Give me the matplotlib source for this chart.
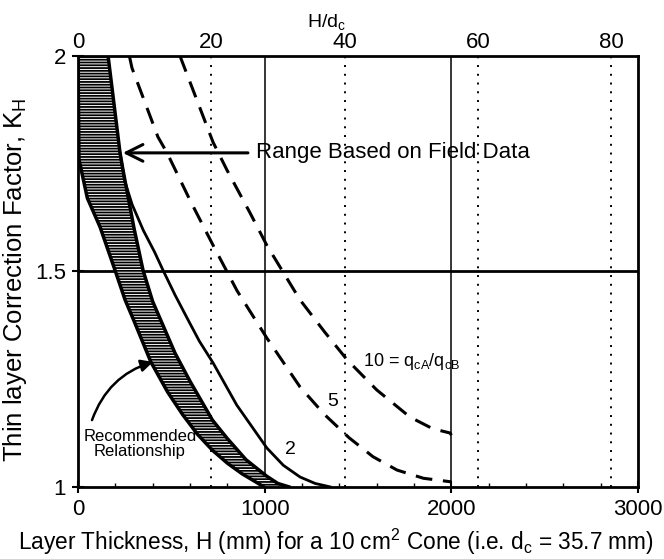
import matplotlib
matplotlib.use("Agg")
import matplotlib.pyplot as plt
from matplotlib.ticker import MultipleLocator

plt.rcParams['font.family'] = ['Liberation Sans', 'DejaVu Sans']
plt.rcParams['hatch.linewidth'] = 1.3
plt.rcParams['mathtext.default'] = 'regular'

# Recommended relationship band (lower / upper edges)
band_low_H = [0, 5, 50, 118, 198, 252, 300, 390, 480, 560, 640, 720, 800, 880, 950, 995]
band_low_K = [2.0, 1.76, 1.67, 1.603, 1.503, 1.434, 1.385, 1.29, 1.22, 1.168, 1.122, 1.085, 1.055, 1.03, 1.012, 1.0]
band_up_H = [161, 225, 241, 300, 348, 400, 450, 520, 600, 720, 800, 900, 1010, 1070, 1130]
band_up_K = [2.0, 1.775, 1.735, 1.6, 1.503, 1.43, 1.38, 1.31, 1.245, 1.155, 1.112, 1.063, 1.025, 1.008, 1.0]

# q_cA/q_cB = 2 (solid)
c2_H = [225, 250, 290, 350, 410, 455, 520, 584, 650, 723, 850, 1012, 1100, 1189, 1270, 1350]
c2_K = [1.775, 1.71, 1.655, 1.595, 1.545, 1.503, 1.445, 1.392, 1.338, 1.288, 1.19, 1.09, 1.05, 1.023, 1.008, 1.0]
# q_cA/q_cB = 5 (dashed)
c5_H = [275, 289, 428, 477, 600, 723, 852, 1012, 1189, 1320, 1452, 1580, 1709, 1850, 1993, 2000]
c5_K = [2.0, 1.972, 1.812, 1.775, 1.665, 1.561, 1.455, 1.345, 1.232, 1.168, 1.114, 1.07, 1.039, 1.02, 1.012, 1.012]
# q_cA/q_cB = 10 (dashed)
c10_H = [546, 723, 798, 921, 1012, 1189, 1320, 1441, 1600, 1778, 1900, 1993, 2000]
c10_K = [2.0, 1.80, 1.735, 1.636, 1.56, 1.434, 1.36, 1.295, 1.225, 1.162, 1.135, 1.125, 1.12]

dc = 35.7
top_ticks = [0, 20, 40, 60, 80]
x_ticks = [0, 1000, 2000, 3000]
y_ticks = [1, 1.5, 2]

fig = plt.figure(figsize=(6.64, 5.59), dpi=100)
ax = fig.add_axes([0.1175, 0.129, 0.8435, 0.771])
ax.set_xlim(0, 3000)
ax.set_ylim(1, 2)

# reference lines
for v in [1000, 2000]:
    ax.axvline(v, color='black', lw=1.1, zorder=1)
ax.axhline(1.5, color='black', lw=2.0, zorder=1)
for t in top_ticks[1:]:
    ax.axvline(t * dc, color='black', lw=1.4, linestyle=(0, (1, 3.5)), zorder=1)

# band
poly_H = band_low_H + band_up_H[::-1]
poly_K = band_low_K + band_up_K[::-1]
ax.fill(poly_H, poly_K, facecolor='white', edgecolor='black', hatch='------', lw=0, zorder=2)
ax.plot(band_low_H, band_low_K, color='black', lw=2.5, zorder=3)
ax.plot(band_up_H, band_up_K, color='black', lw=2.5, zorder=3)

ax.plot(c2_H, c2_K, color='black', lw=2.0, zorder=3)
ax.plot(c5_H, c5_K, color='black', lw=2.2, linestyle=(0, (5.5, 3.5)), zorder=3)
ax.plot(c10_H, c10_K, color='black', lw=2.2, linestyle=(0, (5.5, 3.5)), zorder=3)

# annotations
ax.annotate('', xy=(225, 1.775), xytext=(925, 1.775),
            arrowprops=dict(arrowstyle='->', lw=2.2, color='black', mutation_scale=30))
ax.text(955, 1.775, 'Range Based on Field Data', fontsize=16, va='center', ha='left')
ax.annotate('', xy=(402, 1.29), xytext=(75, 1.155),
            arrowprops=dict(arrowstyle='-|>', lw=1.8, color='black', mutation_scale=18,
                            connectionstyle='arc3,rad=-0.25', shrinkA=0, shrinkB=0))
ax.text(332, 1.10, 'Recommended\nRelationship', fontsize=12, ha='center', va='center',
        linespacing=1.0)
ax.text(1527, 1.29, '10 = q$_{cA}$/q$_{cB}$', fontsize=13, ha='left', va='center')
ax.text(1366, 1.197, '5', fontsize=14, ha='center', va='center')
ax.text(1136, 1.086, '2', fontsize=14, ha='center', va='center')

# ticks
ax.set_xticks(x_ticks)
ax.set_yticks(y_ticks)
ax.set_yticklabels(['1', '1.5', '2'])
ax.xaxis.set_minor_locator(MultipleLocator(200))
ax.tick_params(axis='both', which='major', direction='inout', length=9, width=1.5,
               labelsize=16, pad=4)
ax.tick_params(axis='x', which='minor', direction='in', length=3, width=1)
for s in ax.spines.values():
    s.set_linewidth(2)

ax.set_xlabel('Layer Thickness, H (mm) for a 10 cm$^2$ Cone (i.e. d$_c$ = 35.7 mm)',
              fontsize=16.3)
ax.xaxis.set_label_coords(0.461, -0.092)
ax.set_ylabel('Thin layer Correction Factor, K$_H$', fontsize=18.5)
ax.yaxis.set_label_coords(-0.088, 0.48)

top = ax.secondary_xaxis('top', functions=(lambda h: h / dc, lambda r: r * dc))
top.set_xticks(top_ticks)
top.tick_params(length=0, labelsize=16, pad=2)
top.spines['top'].set_visible(False)
top.set_xlabel('H/d$_c$', fontsize=14, labelpad=4, x=0.443)

fig.savefig('out.png', dpi=100)
